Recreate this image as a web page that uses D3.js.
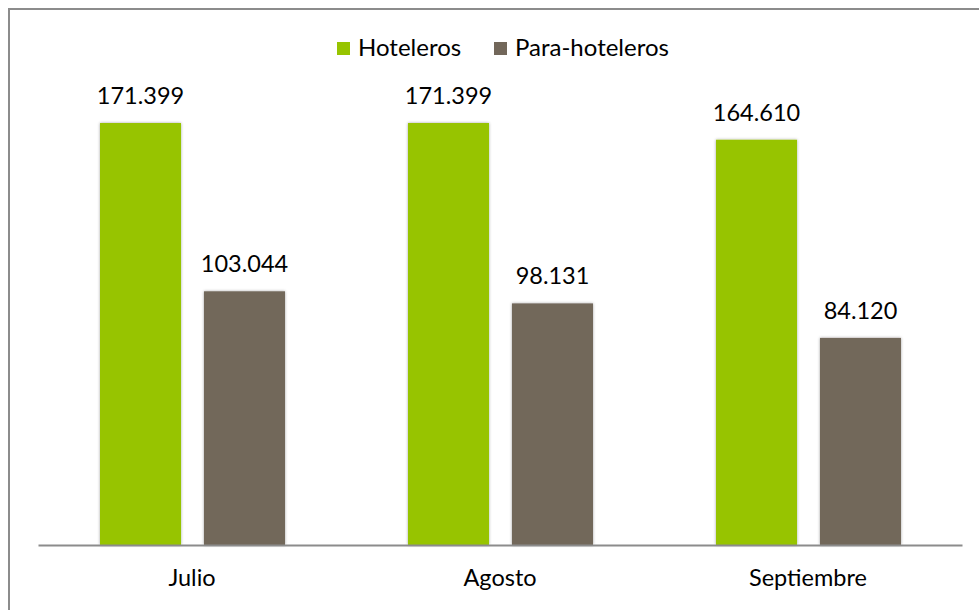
<!DOCTYPE html>
<html>
<head>
<meta charset="utf-8">
<script src="https://cdn.jsdelivr.net/npm/d3@7"></script>
<style>
  body { margin: 0; background: #fff; }
  svg text { font-family: Lato, "Open Sans", sans-serif; fill: #000; }
</style>
</head>
<body>
<svg width="979" height="610"></svg>
<script>
const months = ["Julio", "Agosto", "Septiembre"];
const seriesNames = ["Hoteleros", "Para-hoteleros"];
const hoteleros = [171.399, 171.399, 164.61];
const paraHoteleros = [103.044, 98.131, 84.12];
const colors = ["#97c400", "#72675a"];

const svg = d3.select("svg");

// shadow for bars
const defs = svg.append("defs");
const f = defs.append("filter").attr("id", "shadow")
  .attr("x", "-10%").attr("y", "-5%").attr("width", "120%").attr("height", "110%");
f.append("feDropShadow").attr("dx", 0).attr("dy", 0).attr("stdDeviation", 1.5)
  .attr("flood-color", "#000").attr("flood-opacity", 0.35);

// outer border (runs off the page at right/bottom)
svg.append("rect")
  .attr("x", 9).attr("y", 9).attr("width", 1000).attr("height", 700)
  .attr("fill", "none").attr("stroke", "#8c8c8c").attr("stroke-width", 2);

const x = d3.scaleBand().domain(months).range([38, 962]);
const x1 = d3.scaleBand().domain(seriesNames).range([62, 247]).paddingInner(0.221);
const y = d3.scaleLinear().domain([0, 200]).range([545, 52.6]);

const rows = months.map((m, i) => ({ month: m, vals: [hoteleros[i], paraHoteleros[i]] }));

const groups = svg.selectAll("g.month").data(rows).enter().append("g")
  .attr("transform", d => `translate(${x(d.month)},0)`);

groups.selectAll("rect").data(d => d.vals.map((v, j) => ({ v, s: seriesNames[j], j })))
  .enter().append("rect")
  .attr("x", d => x1(d.s)).attr("width", x1.bandwidth())
  .attr("y", d => y(d.v)).attr("height", d => y(0) - y(d.v))
  .attr("fill", d => colors[d.j])
  .attr("filter", "url(#shadow)");

groups.selectAll("text").data(d => d.vals.map((v, j) => ({ v, s: seriesNames[j] })))
  .enter().append("text")
  .attr("x", d => x1(d.s) + x1.bandwidth() / 2)
  .attr("y", d => y(d.v) - 19)
  .attr("text-anchor", "middle")
  .attr("font-size", 23.5)
  .text(d => d3.format(".3f")(d.v));

// axis baseline and category labels
const axis = svg.append("g").attr("transform", "translate(0,545)")
  .call(d3.axisBottom(x).tickSize(0).tickPadding(24));
axis.select(".domain").attr("stroke", "#8c8c8c").attr("stroke-width", 2);
axis.selectAll(".tick text").attr("font-size", 23.5).attr("fill", "#000")
  .style("font-family", "Lato, 'Open Sans', sans-serif");

// legend
const legendX = [337, 494];
const lg = svg.selectAll("g.legend").data(seriesNames).enter().append("g")
  .attr("transform", (d, i) => `translate(${legendX[i]},42)`);
lg.append("rect").attr("width", 13).attr("height", 13).attr("fill", (d, i) => colors[i]);
lg.append("text").attr("x", 21).attr("y", 14).attr("font-size", 24).text(d => d);
</script>
</body>
</html>
